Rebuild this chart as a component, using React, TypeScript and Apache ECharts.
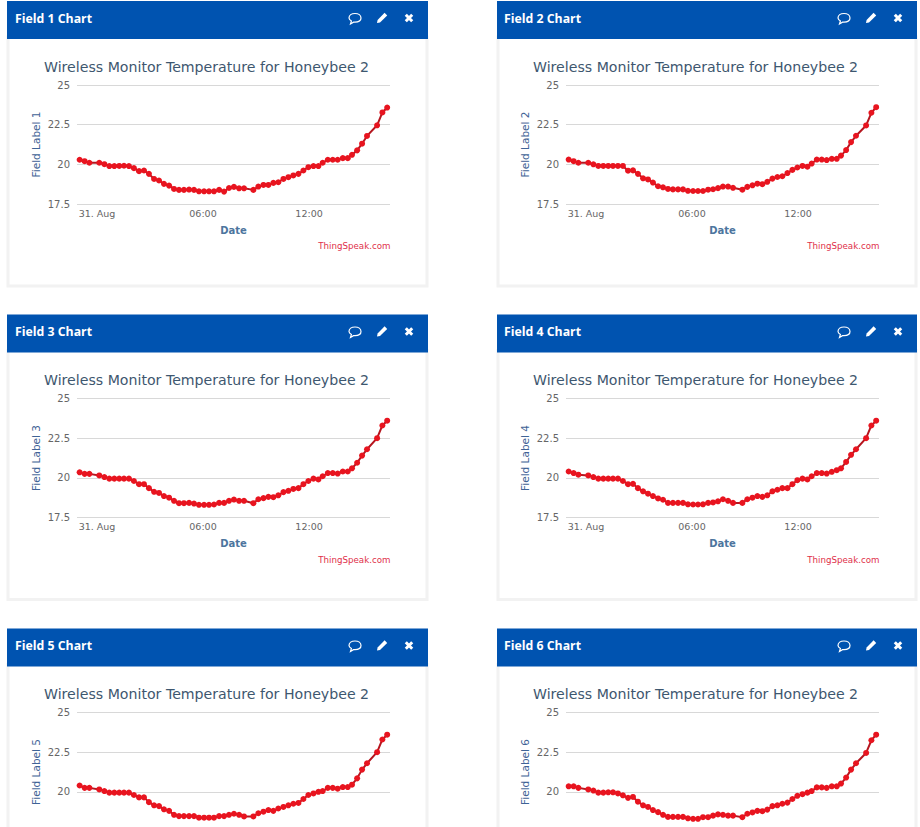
import React, { useEffect, useRef } from "react";
import * as echarts from "echarts";

const chartTitle = "Wireless Monitor Temperature for Honeybee 2";
const xName = "Date";
const creditText = "ThingSpeak.com";
const panelNames = ["Field 1 Chart", "Field 2 Chart", "Field 3 Chart", "Field 4 Chart", "Field 5 Chart", "Field 6 Chart"];
const axisNames = ["Field Label 1", "Field Label 2", "Field Label 3", "Field Label 4", "Field Label 5", "Field Label 6"];
const xTickHours = [0, 6, 12];
const xTickLabels = ["31. Aug", "06:00", "12:00"];
const yTicks = [17.5, 20, 22.5, 25];

const hours = [
  -0.98, -0.7, -0.43, 0.13, 0.42, 0.7, 0.98, 1.26, 1.53, 1.81,
  2.09, 2.38, 2.66, 2.94, 3.23, 3.51, 3.79, 4.08, 4.36, 4.64,
  4.92, 5.21, 5.49, 5.77, 6.06, 6.34, 6.62, 6.91, 7.19, 7.47,
  7.75, 8.04, 8.32, 8.85, 9.13, 9.42, 9.7, 9.98, 10.26, 10.55,
  10.83, 11.11, 11.4, 11.68, 11.96, 12.25, 12.53, 12.77, 13.06, 13.34,
  13.62, 13.91, 14.19, 14.43, 14.72, 15.0, 15.28, 15.85, 16.15, 16.42,
];
const field1 = [
  20.29, 20.2, 20.1, 20.1, 20.01, 19.89, 19.89, 19.9, 19.91, 19.89,
  19.76, 19.57, 19.61, 19.4, 19.08, 18.98, 18.77, 18.66, 18.45, 18.39,
  18.39, 18.41, 18.39, 18.3, 18.3, 18.3, 18.3, 18.39, 18.28, 18.51,
  18.58, 18.49, 18.49, 18.39, 18.6, 18.7, 18.7, 18.83, 18.87, 19.08,
  19.19, 19.3, 19.4, 19.61, 19.82, 19.89, 19.89, 20.1, 20.29, 20.29,
  20.29, 20.39, 20.39, 20.6, 20.88, 21.3, 21.79, 22.46, 23.27, 23.58,
];
const field2 = [
  20.3, 20.2, 20.1, 20.1, 20.0, 19.9, 19.9, 19.9, 19.9, 19.9,
  19.9, 19.6, 19.62, 19.4, 19.12, 19.05, 18.85, 18.62, 18.55, 18.45,
  18.42, 18.42, 18.42, 18.33, 18.32, 18.32, 18.32, 18.4, 18.43, 18.5,
  18.6, 18.6, 18.52, 18.4, 18.58, 18.68, 18.78, 18.75, 18.9, 19.1,
  19.2, 19.25, 19.45, 19.65, 19.8, 19.9, 19.85, 20.05, 20.3, 20.3,
  20.27, 20.35, 20.35, 20.55, 20.9, 21.4, 21.8, 22.45, 23.25, 23.6,
];
const field3 = [
  20.35, 20.25, 20.25, 20.15, 20.05, 19.95, 19.95, 19.95, 19.95, 19.95,
  19.8, 19.6, 19.6, 19.35, 19.12, 19.05, 18.85, 18.75, 18.55, 18.4,
  18.4, 18.42, 18.38, 18.3, 18.3, 18.3, 18.32, 18.42, 18.42, 18.55,
  18.63, 18.55, 18.55, 18.4, 18.65, 18.72, 18.8, 18.78, 18.9, 19.1,
  19.18, 19.3, 19.35, 19.6, 19.8, 19.95, 19.9, 20.1, 20.3, 20.3,
  20.27, 20.4, 20.4, 20.6, 20.95, 21.4, 21.8, 22.5, 23.3, 23.6,
];
const field4 = [
  20.4, 20.3, 20.2, 20.15, 20.05, 19.95, 19.95, 19.95, 19.95, 19.95,
  19.8, 19.6, 19.62, 19.35, 19.15, 19.0, 18.85, 18.7, 18.62, 18.42,
  18.42, 18.42, 18.42, 18.33, 18.32, 18.32, 18.33, 18.42, 18.45, 18.52,
  18.65, 18.55, 18.42, 18.42, 18.65, 18.75, 18.85, 18.8, 18.9, 19.15,
  19.25, 19.35, 19.35, 19.6, 19.85, 19.95, 19.9, 20.1, 20.3, 20.3,
  20.27, 20.38, 20.48, 20.6, 21.0, 21.45, 21.8, 22.5, 23.3, 23.6,
];
const field5 = [
  20.4, 20.25, 20.25, 20.15, 20.05, 19.95, 19.95, 19.95, 19.95, 19.95,
  19.8, 19.65, 19.65, 19.35, 19.15, 19.1, 18.9, 18.8, 18.55, 18.47,
  18.47, 18.47, 18.47, 18.37, 18.37, 18.37, 18.37, 18.47, 18.47, 18.55,
  18.62, 18.55, 18.45, 18.45, 18.65, 18.75, 18.85, 18.8, 18.95, 19.05,
  19.15, 19.25, 19.3, 19.55, 19.8, 19.9, 20.0, 20.05, 20.25, 20.25,
  20.2, 20.3, 20.3, 20.45, 20.85, 21.4, 21.8, 22.5, 23.3, 23.6,
];
const field6 = [
  20.35, 20.35, 20.25, 20.15, 20.08, 19.95, 19.95, 19.97, 19.97, 19.9,
  19.78, 19.62, 19.68, 19.38, 19.15, 19.05, 18.85, 18.72, 18.55, 18.42,
  18.42, 18.42, 18.42, 18.33, 18.3, 18.3, 18.4, 18.4, 18.5, 18.58,
  18.55, 18.5, 18.5, 18.4, 18.62, 18.7, 18.8, 18.78, 18.88, 19.1,
  19.15, 19.25, 19.32, 19.55, 19.75, 19.85, 19.95, 20.05, 20.28, 20.28,
  20.25, 20.35, 20.35, 20.52, 20.9, 21.4, 21.8, 22.45, 23.25, 23.6,
];
const fields = [field1, field2, field3, field4, field5, field6];

const COMMENT = "M0 -4.5C3.5 -4.5 6 -2.6 6 0C6 2.5 3.5 4.2 0 4.2L-1.5 4.2L-4.5 6L-3.6 3C-5 2.2 -6 1.2 -6 0C-6 -2.6 -3.5 -4.5 0 -4.5Z";
const PENCIL = "M2.6 -5.2L5.2 -2.6L-2 4.4L-5 5L-4.4 2Z";
const CROSS = "M-3.2 -3.2L3.2 3.2M3.2 -3.2L-3.2 3.2";
echarts.graphic.registerShape("commentIcon", echarts.graphic.extendPath(COMMENT, {}));
echarts.graphic.registerShape("pencilIcon", echarts.graphic.extendPath(PENCIL, {}));
echarts.graphic.registerShape("crossIcon", echarts.graphic.extendPath(CROSS, {}));

const FONT = "'DejaVu Sans', Verdana, sans-serif";
const colX = [0, 489];
const panelX = [0, 490];
const rowY = [0, 313.5, 627.5];

function buildOption() {
  const title: any[] = [];
  const grid: any[] = [];
  const xAxis: any[] = [];
  const yAxis: any[] = [];
  const series: any[] = [];
  const graphic: any[] = [];

  fields.forEach((values, i) => {
    const dx = colX[i % 2];
    const px = panelX[i % 2];
    const dy = rowY[Math.floor(i / 2)];
    const lastRow = i >= 4;
    const w = i % 2 ? 420 : 421;

    graphic.push(
      { type: "rect", z: -3, shape: { x: 8 + px, y: 37 + dy, width: w - 2, height: 249 }, style: { fill: "#ffffff", stroke: "#f2f2f2", lineWidth: 3 } },
      { type: "rect", z: -2, shape: { x: 7 + px, y: 1 + dy, width: w, height: 38 }, style: { fill: "#0053b0" } },
      { type: "text", z: 5, x: 15 + dx, y: 18 + dy, style: { text: panelNames[i], fill: "#ffffff", font: "bold 12.3px 'Open Sans', sans-serif", textVerticalAlign: "middle" } },
      { type: "commentIcon", z: 5, x: 355 + dx, y: 18 + dy, style: { fill: "none", stroke: "#ffffff", lineWidth: 1.2 } },
      { type: "pencilIcon", z: 5, x: 382 + dx, y: 18 + dy, style: { fill: "#ffffff" } },
      { type: "crossIcon", z: 5, x: 409 + dx, y: 18 + dy, style: { fill: "none", stroke: "#ffffff", lineWidth: 3 } },
    );
    if (!lastRow) {
      graphic.push({ type: "text", z: 5, x: 390.5 + dx, y: 246 + dy, style: { text: creditText, fill: "#e0304a", font: `8.7px ${FONT}`, textAlign: "right", textVerticalAlign: "middle" } });
    }

    title.push({
      text: chartTitle,
      left: 44 + dx,
      top: 59.5 + dy,
      padding: 0,
      textStyle: { color: "#3e576f", fontSize: 14.15, fontWeight: "normal", fontFamily: FONT },
    });
    grid.push({ left: 77 + dx, width: 313, top: 85 + dy, height: 119, containLabel: false, outerBoundsMode: "none" });
    xAxis.push({
      gridIndex: i,
      type: "value",
      min: -1.13,
      max: 16.58,
      name: lastRow ? "" : xName,
      nameLocation: "middle",
      nameGap: 21,
      nameTextStyle: { color: "#4d759e", fontSize: 10, fontWeight: "bold", fontFamily: FONT },
      axisLine: { show: false },
      axisTick: { show: false },
      splitLine: { show: false },
      axisLabel: {
        show: !lastRow,
        customValues: xTickHours,
        formatter: (v: number) => xTickLabels[xTickHours.indexOf(v)] ?? "",
        color: "#666666",
        fontSize: 9.5,
        fontFamily: FONT,
        margin: 4,
      },
    });
    yAxis.push({
      gridIndex: i,
      type: "value",
      min: 17.5,
      max: 25,
      interval: 2.5,
      name: axisNames[i],
      nameLocation: "middle",
      nameGap: 36,
      nameTextStyle: { color: "#3f6396", fontSize: 10.5, fontFamily: FONT },
      axisLine: { show: false },
      axisTick: { show: false },
      splitLine: { lineStyle: { color: "#d8d8d8", width: 1 } },
      axisLabel: {
        customValues: lastRow ? yTicks.slice(1) : yTicks,
        color: "#666666",
        fontSize: 10,
        fontFamily: FONT,
        margin: 7,
      },
    });
    series.push({
      type: "line",
      xAxisIndex: i,
      yAxisIndex: i,
      data: values.map((v, k) => [hours[k], v]),
      symbol: "circle",
      symbolSize: 6,
      lineStyle: { color: "#b5161f", width: 2 },
      itemStyle: { color: "#e8141f" },
      silent: true,
      clip: false,
    });
  });

  return { animation: false, backgroundColor: "#ffffff", title, grid, xAxis, yAxis, series, graphic };
}

export default function App() {
  const ref = useRef<HTMLDivElement>(null);
  useEffect(() => {
    const chart = echarts.init(ref.current!, undefined, { renderer: "svg" });
    chart.setOption(buildOption());
    return () => chart.dispose();
  }, []);
  return <div ref={ref} style={{ position: "fixed", left: 0, top: 0, width: 920, height: 827 }} />;
}
